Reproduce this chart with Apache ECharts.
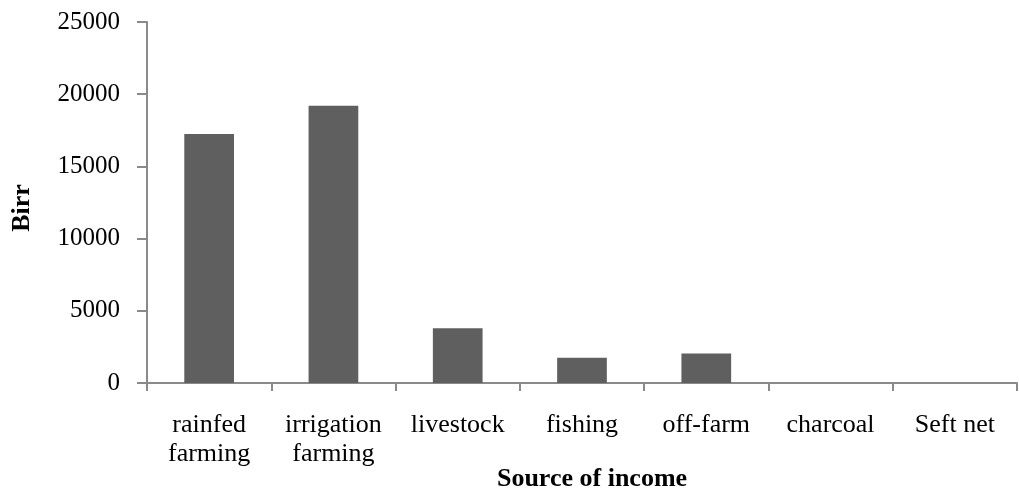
<!DOCTYPE html>
<html>
<head>
<meta charset="utf-8">
<script src="https://cdn.jsdelivr.net/npm/echarts@6/dist/echarts.min.js"></script>
<style>html,body{margin:0;padding:0;background:#fff;overflow:hidden;}#c{position:absolute;left:0;top:0;width:1019px;height:492px;}</style>
</head>
<body>
<div id="c"></div>
<script>
var categories = ['rainfed\nfarming', 'irrigation\nfarming', 'livestock', 'fishing', 'off-farm', 'charcoal', 'Seft net'];
var incomeValues = [17250, 19200, 3800, 1750, 2050, 0, 0];
var yTicks = [0, 5000, 10000, 15000, 20000, 25000];

var serif = '"Liberation Serif", "Times New Roman", serif';
var chart = echarts.init(document.getElementById('c'), null, { width: 1019, height: 492 });
chart.setOption({
  animation: false,
  backgroundColor: '#ffffff',
  grid: { left: 147, top: 22, width: 870, height: 361, containLabel: false, outerBoundsMode: 'none' },
  xAxis: {
    type: 'category',
    data: categories,
    name: 'Source of income',
    nameLocation: 'middle',
    nameGap: 83,
    nameMoveOverlap: false,
    nameTextStyle: { fontFamily: serif, fontSize: 26, fontWeight: 'bold', color: '#000', padding: [0, 0, 0, 20] },
    axisLine: { lineStyle: { color: '#8a8a8a', width: 2 } },
    axisTick: { show: true, length: 8, inside: false, alignWithLabel: false, lineStyle: { color: '#8a8a8a', width: 2 } },
    axisLabel: { fontFamily: serif, fontSize: 26, color: '#000', margin: 28, lineHeight: 29, interval: 0 },
    splitLine: { show: false }
  },
  yAxis: {
    type: 'value',
    min: yTicks[0],
    max: yTicks[yTicks.length - 1],
    interval: 5000,
    name: 'Birr',
    nameLocation: 'middle',
    nameGap: 112,
    nameMoveOverlap: false,
    nameTextStyle: { fontFamily: serif, fontSize: 26, fontWeight: 'bold', color: '#000', padding: [0, 11, 0, 0] },
    axisLine: { show: true, lineStyle: { color: '#8a8a8a', width: 2 } },
    axisTick: { show: true, length: 10, inside: false, lineStyle: { color: '#8a8a8a', width: 2 } },
    axisLabel: { fontFamily: serif, fontSize: 25, color: '#000', margin: 27, formatter: function (v) { return String(v); } },
    splitLine: { show: false }
  },
  series: [{
    type: 'bar',
    data: incomeValues,
    barWidth: '40%',
    itemStyle: { color: '#5f5f5f' }
  }]
});
</script>
</body>
</html>
